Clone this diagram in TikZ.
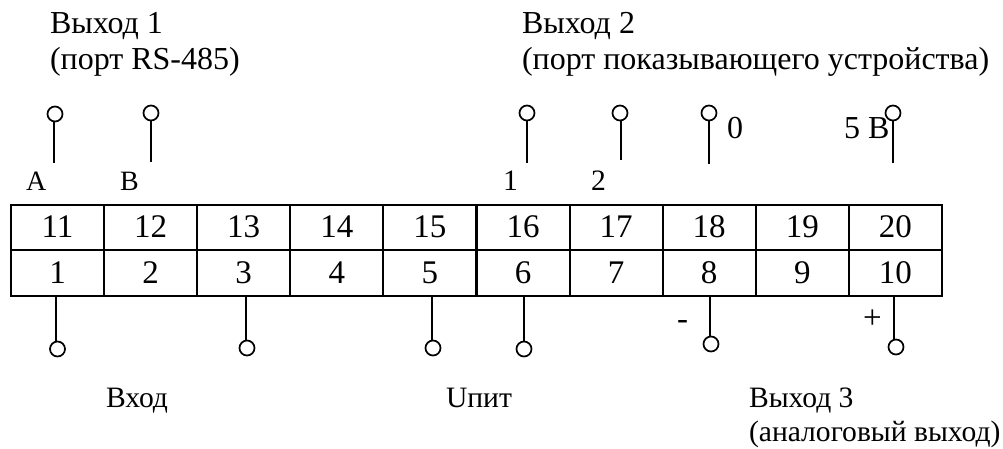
\documentclass[tikz,border=0pt]{standalone}
\usepackage{fontspec}
\setmainfont{Liberation Serif}
\tikzset{
  cell/.style={draw=black,line width=2pt,rectangle,minimum width=93pt,minimum height=45.5pt,inner sep=0pt,outer sep=0pt,text height=22pt,text depth=2pt,font=\fontsize{33}{33}\selectfont},
  pin/.style={draw=black,line width=1.7pt,circle,minimum size=15pt,inner sep=0pt,outer sep=0pt,fill=white},
  wire/.style={draw=black,line width=1.5pt},
  lab/.style={anchor=base west,inner sep=0pt,outer sep=0pt,font=\fontsize{32}{32}\selectfont},
  small/.style={anchor=base west,inner sep=0pt,outer sep=0pt,font=\fontsize{29.6}{30}\selectfont},
  letter/.style={anchor=base west,inner sep=0pt,outer sep=0pt,font=\fontsize{28}{28}\selectfont},
  sign/.style={anchor=base west,inner sep=0pt,outer sep=0pt,font=\fontsize{33}{33}\selectfont},
}
\begin{document}
\begin{tikzpicture}[x=1pt,y=-1pt]
\useasboundingbox (0,0) rectangle (1003,448);
% terminal block
\foreach \n [count=\i from 0] in {11,...,20}{
  \node[cell] (c\n) at ({57.5+93.1*\i},227.5) {\n};
}
\foreach \n [count=\i from 0] in {1,...,10}{
  \node[cell] (c\n) at ({57.5+93.1*\i},273) {\n};
}
% upper pins
\foreach \nm/\cx/\tx/\ty/\ey in {a/55/54/114/163, b/151/151/113/162, e/527/527/113/163, f/620/621/113/160, g/709/709/113/164, h/893/893/113/163}{
  \node[pin] (p\nm) at (\cx,\ty) {};
  \coordinate (t\nm) at (\tx,\ey);
  \draw[wire] (t\nm) -- (t\nm |- p\nm.south);
}
% lower pins
\foreach \n/\cx/\tx/\cy in {1/57.5/56/349, 3/247/246/348, 5/433/432/348, 6/524/524/349, 8/711/710/344, 10/896/894/347}{
  \node[pin] (q\n) at (\cx,\cy) {};
  \coordinate (u\n) at (\tx,296);
  \draw[wire] (u\n |- c\n.south) -- (u\n |- q\n.north);
}
% texts
\node[lab] (t1) at (50,33) {Выход 1};
\node[lab] (t2) at (50,69) {(порт RS-485)};
\node[lab] (t3) at (522,33) {Выход 2};
\node[lab] (t4) at (522,69) {(порт показывающего устройства)};
\node[letter] (la) at (26,190) {A};
\node[letter] (lb) at (120,190) {B};
\node[small] (l1) at (503,190) {1};
\node[small] (l2) at (591,190) {2};
\node[lab] (l0) at (727,138) {0};
\node[lab] (l5) at (844,138) {5 В};
\node[sign] (lm) at (677,329) {-};
\node[sign] (lp) at (863,328) {+};
\node[small] (t5) at (106,407) {Вход};
\node[small] (t6) at (446,407) {Uпит};
\node[small] (t7) at (749,407) {Выход 3};
\node[small] (t8) at (749,441) {(аналоговый выход)};
\end{tikzpicture}
\end{document}
